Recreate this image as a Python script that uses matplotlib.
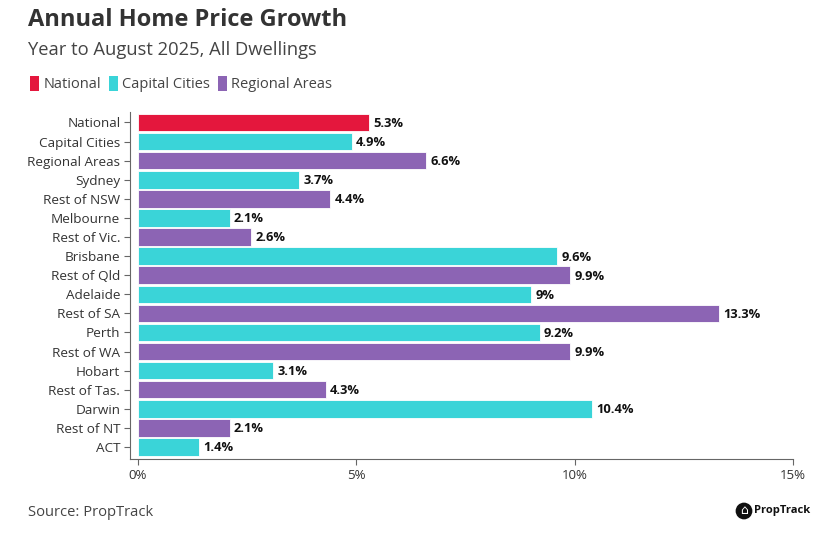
import matplotlib.pyplot as plt
from matplotlib.patches import Patch

plt.rcParams['font.family'] = ['Open Sans', 'DejaVu Sans']

regions = ["National", "Capital Cities", "Regional Areas", "Sydney", "Rest of NSW",
           "Melbourne", "Rest of Vic.", "Brisbane", "Rest of Qld", "Adelaide",
           "Rest of SA", "Perth", "Rest of WA", "Hobart", "Rest of Tas.",
           "Darwin", "Rest of NT", "ACT"]
growth = [5.3, 4.9, 6.6, 3.7, 4.4, 2.1, 2.6, 9.6, 9.9, 9.0, 13.3, 9.2, 9.9,
          3.1, 4.3, 10.4, 2.1, 1.4]
group = ["National", "Capital Cities", "Regional Areas", "Capital Cities",
         "Regional Areas", "Capital Cities", "Regional Areas", "Capital Cities",
         "Regional Areas", "Capital Cities", "Regional Areas", "Capital Cities",
         "Regional Areas", "Capital Cities", "Regional Areas", "Capital Cities",
         "Regional Areas", "Capital Cities"]

colours = {"National": "#E4173D", "Capital Cities": "#3AD4D8", "Regional Areas": "#8C64B4"}

fig = plt.figure(figsize=(8.22, 5.37), dpi=100)
# axes box in pixels: left 130, right 793, top 112, bottom 459
ax = fig.add_axes([130 / 822, 1 - 459 / 537, (793 - 130) / 822, (459 - 112) / 537])

ypos = list(range(len(regions)))
ax.barh(ypos, growth, height=0.92, color=[colours[g] for g in group],
        edgecolor="white", linewidth=0.6)
for y, v in zip(ypos, growth):
    lbl = ("%g" % v) + "%"
    ax.text(v + 0.1, y + 0.05, lbl, va="center", ha="left", fontsize=9.3,
            fontweight="bold", color="#111111")

ax.set_yticks(ypos)
ax.set_yticklabels(regions, fontsize=9.7, color="#333333")
ax.set_ylim(len(regions) - 0.37, -0.55)
ax.set_xlim(-0.18, 15)
ax.set_xticks([0, 5, 10, 15])
ax.set_xticklabels(["0%", "5%", "10%", "15%"], fontsize=9.5, color="#333333")
for s in ["top", "right"]:
    ax.spines[s].set_visible(False)
for s in ["left", "bottom"]:
    ax.spines[s].set_color("#666666")
    ax.spines[s].set_linewidth(0.8)
ax.tick_params(axis="both", color="#666666", length=4, width=0.8)
ax.tick_params(axis="y", pad=3)

fig.text(28 / 822, 1 - 20 / 537, "Annual Home Price Growth", fontsize=17,
         fontweight="bold", color="#333333", va="center", ha="left")
fig.text(28 / 822, 1 - 50 / 537, "Year to August 2025, All Dwellings", fontsize=13.2,
         color="#444444", va="center", ha="left")

handles = [Patch(facecolor=colours[k], edgecolor="none") for k in colours]
fig.legend(handles, list(colours.keys()), loc="center left",
           bbox_to_anchor=(17 / 822, 1 - 84 / 537), ncol=3, frameon=False,
           fontsize=10.5, handlelength=0.6, handleheight=1.2, handletextpad=0.3,
           columnspacing=0.55, labelcolor="#444444")

fig.text(28 / 822, 1 - 513 / 537, "Source: PropTrack", fontsize=10.6,
         color="#444444", va="center", ha="left")

# PropTrack logo
fig.text(744 / 822, 1 - 511 / 537, "\u2302", fontsize=9, color="white",
         va="center", ha="center", zorder=5,
         bbox=dict(boxstyle="circle,pad=0.15", facecolor="#111111", edgecolor="none"))
fig.text(754 / 822, 1 - 511 / 537, "PropTrack", fontsize=8, fontweight="bold",
         color="#111111", va="center", ha="left")

fig.savefig("out.png", dpi=100, facecolor="white")
